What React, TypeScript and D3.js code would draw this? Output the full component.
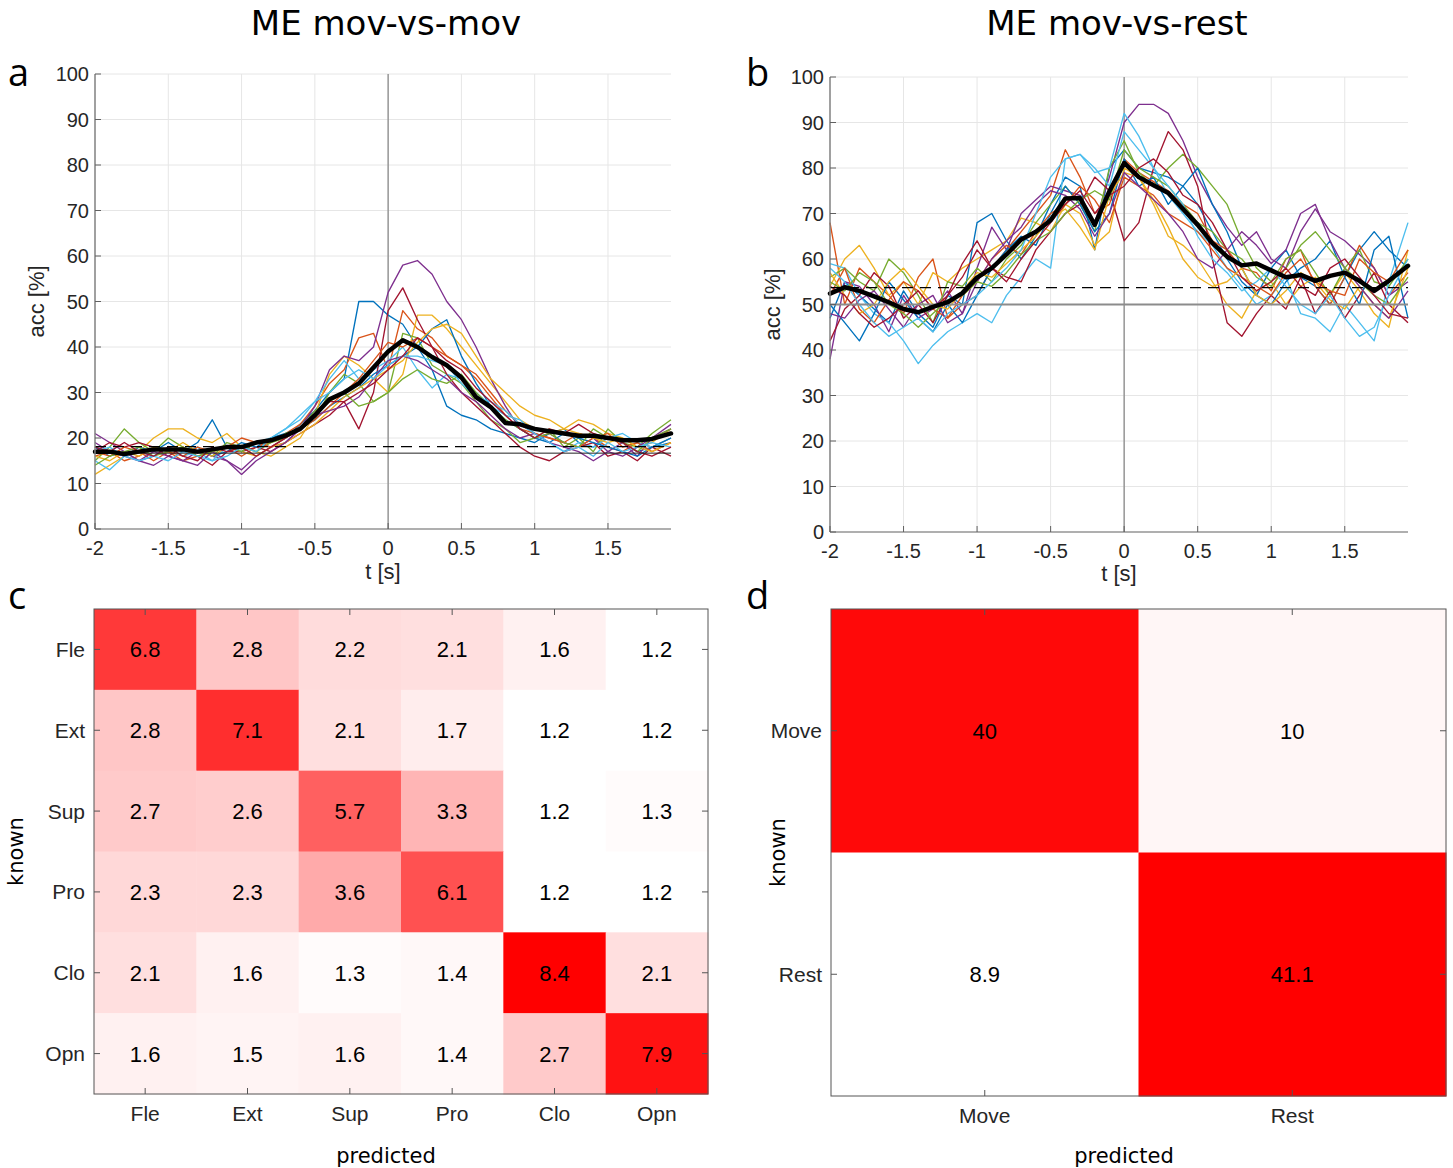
import React from 'react';
import * as d3 from 'd3';

// ---------- data ----------
const TIMES = [-2, -1.9, -1.8, -1.7, -1.6, -1.5, -1.4, -1.3, -1.2, -1.1, -1.0, -0.9, -0.8, -0.7, -0.6, -0.5, -0.4, -0.3, -0.2, -0.1, 0.0, 0.1, 0.2, 0.3, 0.4, 0.5, 0.6, 0.7, 0.8, 0.9, 1.0, 1.1, 1.2, 1.3, 1.4, 1.5, 1.6, 1.7, 1.8, 1.93];
const X_TICKS = [-2, -1.5, -1, -0.5, 0, 0.5, 1, 1.5];
const Y_TICKS = [0, 10, 20, 30, 40, 50, 60, 70, 80, 90, 100];
const SUBJECT_COLORS = ['#0072BD', '#D95319', '#EDB120', '#7E2F8E', '#77AC30', '#4DBEEE', '#A2142F'];

// panel a: mov-vs-mov accuracy per subject
const movA1 = [18, 16, 17, 15, 16, 18, 17, 19, 24, 18, 17, 19, 18, 20, 23, 26, 30, 33, 50, 50, 47, 45, 40, 35, 27, 25, 24, 22, 21, 20, 19, 21, 22, 19, 18, 20, 19, 17, 18, 19];
const movA2 = [16, 17, 15, 16, 18, 17, 15, 16, 17, 18, 16, 18, 19, 21, 23, 27, 32, 35, 42, 43, 35, 48, 44, 42, 38, 36, 33, 29, 25, 22, 21, 20, 19, 21, 20, 18, 17, 19, 18, 20];
const movA3 = [12, 14, 16, 17, 20, 22, 22, 20, 19, 21, 18, 17, 16, 18, 20, 25, 34, 38, 36, 33, 30, 34, 47, 47, 44, 40, 36, 32, 28, 24, 22, 21, 22, 24, 23, 21, 20, 18, 19, 22];
const movA4 = [21, 19, 17, 15, 14, 16, 15, 17, 16, 15, 13, 16, 18, 19, 22, 27, 35, 38, 37, 40, 52, 58, 59, 56, 50, 46, 40, 33, 27, 22, 20, 21, 19, 18, 20, 17, 19, 16, 20, 23];
const movA5 = [15, 18, 22, 19, 17, 20, 18, 17, 16, 19, 18, 17, 19, 20, 22, 24, 30, 34, 32, 28, 30, 43, 42, 36, 34, 32, 28, 24, 22, 19, 20, 22, 18, 20, 17, 22, 19, 18, 21, 24];
const movA6 = [15, 13, 16, 17, 16, 18, 16, 17, 15, 18, 17, 19, 20, 22, 24, 28, 33, 37, 33, 35, 37, 40, 35, 31, 34, 33, 30, 27, 25, 24, 21, 19, 17, 19, 18, 20, 21, 19, 18, 20];
const movA7 = [17, 19, 18, 19, 18, 16, 18, 16, 14, 17, 17, 18, 17, 19, 21, 23, 25, 28, 22, 30, 48, 53, 46, 40, 34, 30, 27, 24, 21, 18, 16, 15, 17, 18, 19, 16, 17, 15, 18, 16];
const movA8 = [18, 17, 16, 18, 17, 19, 17, 18, 16, 17, 19, 18, 20, 21, 22, 24, 27, 29, 31, 34, 36, 38, 40, 44, 46, 38, 32, 27, 24, 22, 20, 19, 21, 20, 19, 18, 17, 16, 18, 20];
const movA9 = [17, 16, 18, 17, 15, 17, 16, 18, 17, 18, 20, 19, 18, 20, 22, 24, 27, 30, 33, 37, 41, 40, 42, 40, 38, 36, 34, 30, 26, 23, 21, 20, 19, 18, 20, 21, 18, 19, 17, 19];
const movA10 = [16, 15, 17, 16, 18, 17, 19, 17, 16, 18, 17, 16, 18, 19, 21, 23, 26, 29, 31, 33, 35, 37, 41, 44, 45, 43, 38, 33, 30, 27, 25, 24, 22, 21, 20, 19, 20, 18, 17, 19];
const movA11 = [19, 17, 16, 15, 17, 16, 15, 14, 17, 15, 12, 15, 17, 19, 22, 25, 26, 27, 29, 33, 37, 38, 37, 35, 33, 30, 28, 25, 22, 20, 21, 19, 18, 17, 15, 17, 16, 18, 20, 22];
const movA12 = [14, 16, 17, 18, 16, 17, 18, 16, 17, 18, 17, 19, 19, 21, 22, 26, 28, 30, 27, 28, 30, 33, 35, 33, 32, 34, 30, 27, 24, 22, 20, 21, 19, 18, 22, 20, 19, 17, 20, 22];
const movA13 = [17, 18, 16, 15, 16, 15, 17, 16, 15, 16, 18, 17, 20, 22, 25, 28, 30, 33, 35, 33, 36, 38, 38, 37, 36, 32, 29, 28, 26, 23, 21, 19, 17, 18, 16, 19, 17, 18, 19, 18];
const movA14 = [18, 17, 19, 17, 16, 18, 16, 15, 18, 17, 18, 16, 18, 20, 22, 25, 28, 28, 30, 32, 35, 38, 42, 40, 37, 35, 31, 28, 25, 22, 20, 22, 21, 23, 21, 20, 19, 17, 16, 18];
const movMean = [17, 17, 16.5, 17, 17.5, 17.5, 17.5, 17, 17.5, 18, 18, 19, 19.5, 20.5, 22, 25, 28.5, 30, 32, 35.5, 39, 41.5, 40, 37.8, 36, 33.3, 29, 26.8, 23.3, 23, 22, 21.5, 21, 20.5, 20.5, 20, 19.5, 19.5, 19.8, 21];
const movChance = 16.67;
const movDashed = 18.1;

// panel b: mov-vs-rest accuracy per subject
const restB1 = [47, 55, 52, 49, 46, 53, 48, 45, 52, 50, 68, 70, 64, 60, 65, 72, 78, 76, 62, 80, 84, 80, 79, 78, 76, 72, 66, 60, 55, 52, 58, 62, 56, 54, 50, 56, 62, 66, 62, 58];
const restB2 = [68, 50, 58, 55, 52, 48, 56, 60, 47, 50, 52, 58, 62, 66, 70, 74, 84, 78, 70, 72, 82, 79, 77, 75, 72, 70, 64, 62, 58, 57, 53, 60, 62, 54, 50, 56, 63, 58, 52, 57];
const restB3 = [54, 60, 63, 58, 52, 55, 50, 57, 55, 58, 60, 62, 64, 69, 68, 66, 72, 70, 63, 66, 80, 78, 72, 65, 63, 60, 55, 50, 47, 53, 55, 50, 54, 56, 52, 57, 53, 48, 45, 62];
const restB4 = [38, 55, 54, 50, 44, 52, 47, 49, 53, 48, 58, 67, 62, 70, 73, 76, 75, 74, 68, 78, 90, 94, 94, 92, 86, 78, 72, 67, 63, 66, 60, 58, 66, 71, 66, 64, 61, 58, 52, 55];
const restB5 = [56, 58, 55, 53, 60, 57, 52, 46, 55, 54, 58, 55, 60, 63, 68, 72, 76, 72, 66, 80, 86, 79, 76, 80, 83, 80, 76, 72, 64, 58, 55, 60, 62, 57, 52, 58, 62, 55, 54, 60];
const restB6 = [59, 58, 52, 48, 46, 42, 37, 41, 44, 46, 48, 46, 52, 56, 60, 58, 82, 83, 79, 80, 92, 87, 80, 74, 70, 66, 63, 58, 54, 50, 52, 56, 48, 47, 44, 50, 46, 42, 55, 68];
const restB7 = [42, 49, 52, 57, 54, 47, 50, 46, 52, 59, 64, 58, 56, 55, 62, 66, 70, 72, 78, 75, 64, 68, 80, 88, 84, 76, 60, 46, 43, 48, 52, 49, 56, 48, 53, 47, 52, 57, 50, 46];
const restB8 = [50, 46, 42, 48, 55, 51, 47, 44, 50, 46, 52, 58, 62, 65, 63, 70, 76, 72, 66, 70, 82, 76, 78, 72, 76, 80, 72, 66, 58, 52, 50, 55, 58, 60, 64, 56, 50, 62, 65, 47];
const restB9 = [52, 58, 49, 46, 51, 55, 53, 49, 47, 52, 55, 60, 63, 61, 66, 70, 72, 76, 73, 68, 78, 76, 74, 70, 68, 66, 62, 58, 56, 54, 52, 57, 60, 55, 53, 52, 60, 57, 55, 62];
const restB10 = [57, 52, 48, 50, 55, 58, 54, 50, 49, 53, 57, 56, 59, 62, 65, 69, 71, 67, 62, 74, 79, 78, 73, 67, 60, 56, 54, 55, 58, 52, 50, 53, 57, 55, 51, 49, 54, 50, 47, 58];
const restB11 = [48, 47, 51, 53, 49, 45, 50, 52, 46, 48, 55, 60, 64, 67, 72, 75, 74, 71, 65, 70, 79, 76, 73, 70, 66, 60, 58, 62, 66, 63, 59, 62, 70, 72, 64, 58, 54, 50, 47, 53];
const restB12 = [55, 53, 57, 55, 50, 48, 45, 48, 51, 52, 55, 54, 57, 61, 64, 66, 70, 73, 75, 73, 84, 80, 78, 76, 72, 68, 66, 62, 60, 56, 54, 58, 63, 66, 62, 58, 55, 52, 50, 56];
const restB13 = [58, 55, 50, 46, 43, 45, 47, 44, 48, 50, 52, 55, 58, 62, 70, 78, 82, 83, 80, 76, 88, 84, 80, 76, 72, 65, 60, 57, 53, 55, 58, 54, 50, 48, 52, 47, 43, 45, 52, 60];
const restB14 = [54, 52, 48, 45, 47, 50, 53, 49, 52, 56, 62, 58, 55, 60, 64, 68, 72, 75, 70, 74, 76, 80, 82, 79, 74, 72, 68, 62, 56, 53, 55, 58, 54, 52, 58, 60, 56, 52, 48, 47];
const restMean = [52.4, 53.8, 53, 51.8, 50.5, 49, 48.3, 49.5, 50.5, 52.5, 55.9, 58, 61, 64.3, 66, 68.5, 73.3, 73.4, 67.5, 74.9, 81.1, 78, 76.2, 74.5, 71, 67.5, 63.5, 60.5, 58.6, 59, 57.5, 56, 56.5, 55.2, 56.3, 57, 55.2, 53, 55.2, 58.5];
const restChance = 50;
const restDashed = 53.7;

// panel c / d confusion matrices
const movClasses = ['Fle', 'Ext', 'Sup', 'Pro', 'Clo', 'Opn'];
const movConfusion = [
  [6.8, 2.8, 2.2, 2.1, 1.6, 1.2],
  [2.8, 7.1, 2.1, 1.7, 1.2, 1.2],
  [2.7, 2.6, 5.7, 3.3, 1.2, 1.3],
  [2.3, 2.3, 3.6, 6.1, 1.2, 1.2],
  [2.1, 1.6, 1.3, 1.4, 8.4, 2.1],
  [1.6, 1.5, 1.6, 1.4, 2.7, 7.9],
];
const restClasses = ['Move', 'Rest'];
const restConfusion = [
  [40, 10],
  [8.9, 41.1],
];

const movSeries = [movA1, movA2, movA3, movA4, movA5, movA6, movA7, movA8, movA9, movA10, movA11, movA12, movA13, movA14];
const restSeries = [restB1, restB2, restB3, restB4, restB5, restB6, restB7, restB8, restB9, restB10, restB11, restB12, restB13, restB14];

// ---------- styles ----------
const FONT = '"Liberation Sans", Arial, Helvetica, sans-serif';
const DJ = '"DejaVu Sans", sans-serif';
const LETTER = '"Open Sans", "DejaVu Sans", sans-serif';
const TXT = '#262626';

function LinePanel(props: {
  x0: number; x1: number; yBottom: number; yTop: number;
  series: number[][]; mean: number[]; chance: number; dashed: number;
  chanceColor: string; chanceWidth: number;
  title: string; titleX: number; letter: string; letterX: number;
  yLabelX: number; xLabelY: number;
}) {
  const p = props;
  const x = d3.scaleLinear().domain([-2, 1.93]).range([p.x0, p.x1]);
  const y = d3.scaleLinear().domain([0, 100]).range([p.yBottom, p.yTop]);
  const line = d3.line<number>().x((_, i) => x(TIMES[i])).y((d) => y(d));
  return (
    <g>
      <text x={p.titleX} y={35} textAnchor="middle" fontFamily={DJ} fontSize={34} fill="#000">{p.title}</text>
      <text x={p.letterX} y={86} fontFamily={LETTER} fontSize={38} fill="#000">{p.letter}</text>
      {/* grid */}
      {X_TICKS.filter((t) => t !== -2).map((t) => (
        <line key={'gx' + t} x1={x(t)} x2={x(t)} y1={y(0)} y2={y(100)} stroke="#e6e6e6" strokeWidth={1} />
      ))}
      {Y_TICKS.filter((t) => t !== 0).map((t) => (
        <line key={'gy' + t} x1={p.x0} x2={p.x1} y1={y(t)} y2={y(t)} stroke="#e6e6e6" strokeWidth={1} />
      ))}
      {/* t = 0 line */}
      <line x1={x(0)} x2={x(0)} y1={y(0)} y2={y(100)} stroke="#8a8a8a" strokeWidth={1.3} />
      {/* subjects */}
      {p.series.map((s, i) => (
        <path key={'s' + i} d={line(s) || ''} fill="none" stroke={SUBJECT_COLORS[i % SUBJECT_COLORS.length]} strokeWidth={1.35} strokeLinejoin="round" />
      ))}
      {/* chance lines */}
      <line x1={p.x0} x2={p.x1} y1={y(p.chance)} y2={y(p.chance)} stroke={p.chanceColor} strokeWidth={p.chanceWidth} />
      <line x1={p.x0} x2={p.x1} y1={y(p.dashed)} y2={y(p.dashed)} stroke="#000" strokeWidth={1.4} strokeDasharray="11,7" />
      {/* mean */}
      <path d={line(p.mean) || ''} fill="none" stroke="#000" strokeWidth={4.5} strokeLinejoin="round" strokeLinecap="round" />
      {/* axes */}
      <line x1={p.x0} x2={p.x0} y1={y(0)} y2={y(100)} stroke="#808080" strokeWidth={1.5} />
      <line x1={p.x0} x2={p.x1} y1={y(0)} y2={y(0)} stroke="#606060" strokeWidth={1.2} />
      {Y_TICKS.map((t) => (
        <g key={'yt' + t}>
          <line x1={p.x0} x2={p.x0 + 6} y1={y(t)} y2={y(t)} stroke="#606060" strokeWidth={1} />
          <text x={p.x0 - 6} y={y(t)} dy="0.36em" textAnchor="end" fontFamily={FONT} fontSize={20} fill={TXT}>{t}</text>
        </g>
      ))}
      {X_TICKS.map((t) => (
        <g key={'xt' + t}>
          <line x1={x(t)} x2={x(t)} y1={y(0)} y2={y(0) - 6} stroke="#606060" strokeWidth={1} />
          <text x={x(t)} y={y(0) + 26} textAnchor="middle" fontFamily={FONT} fontSize={20} fill={TXT}>{t}</text>
        </g>
      ))}
      <text transform={`translate(${p.yLabelX},${(y(0) + y(100)) / 2}) rotate(-90)`} textAnchor="middle" fontFamily={FONT} fontSize={22} fill={TXT}>acc [%]</text>
      <text x={(p.x0 + p.x1) / 2} y={p.xLabelY} textAnchor="middle" fontFamily={FONT} fontSize={22} fill={TXT}>t [s]</text>
    </g>
  );
}

function MatrixPanel(props: {
  x0: number; x1: number; y0: number; y1: number;
  classes: string[]; values: number[][];
  letter: string; letterX: number; knownX: number; predictedX: number;
}) {
  const p = props;
  const xs = d3.scaleBand<string>().domain(p.classes).range([p.x0, p.x1]);
  const ys = d3.scaleBand<string>().domain(p.classes).range([p.y0, p.y1]);
  const flat = p.values.flat();
  const color = d3.scaleLinear<string>().domain([d3.min(flat) as number, d3.max(flat) as number]).range(['#ffffff', '#ff0000']);
  const bw = xs.bandwidth();
  const bh = ys.bandwidth();
  return (
    <g>
      <text x={p.letterX} y={609} fontFamily={LETTER} fontSize={38} fill="#000">{p.letter}</text>
      {p.values.map((row, r) =>
        row.map((v, c) => (
          <rect key={`c${r}-${c}`} x={xs(p.classes[c])} y={ys(p.classes[r])} width={bw + 0.5} height={bh + 0.5} fill={color(v)} />
        ))
      )}
      {p.values.map((row, r) =>
        row.map((v, c) => (
          <text key={`t${r}-${c}`} x={(xs(p.classes[c]) as number) + bw / 2} y={(ys(p.classes[r]) as number) + bh / 2} dy="0.36em" textAnchor="middle" fontFamily={FONT} fontSize={22} fill="#000">{String(v)}</text>
        ))
      )}
      <rect x={p.x0} y={p.y0} width={p.x1 - p.x0} height={p.y1 - p.y0} fill="none" stroke="#555" strokeWidth={1} />
      {p.classes.map((c) => {
        const cx = (xs(c) as number) + bw / 2;
        const cy = (ys(c) as number) + bh / 2;
        return (
          <g key={'tk' + c}>
            <line x1={cx} x2={cx} y1={p.y0} y2={p.y0 + 6} stroke="#555" />
            <line x1={cx} x2={cx} y1={p.y1} y2={p.y1 - 6} stroke="#555" />
            <line x1={p.x0} x2={p.x0 + 6} y1={cy} y2={cy} stroke="#555" />
            <line x1={p.x1} x2={p.x1 - 6} y1={cy} y2={cy} stroke="#555" />
            <text x={p.x0 - 9} y={cy} dy="0.36em" textAnchor="end" fontFamily={FONT} fontSize={21} fill={TXT}>{c}</text>
            <text x={cx} y={p.y1 + 27} textAnchor="middle" fontFamily={FONT} fontSize={21} fill={TXT}>{c}</text>
          </g>
        );
      })}
      <text transform={`translate(${p.knownX},${(p.y0 + p.y1) / 2}) rotate(-90)`} textAnchor="middle" fontFamily={DJ} fontSize={21} fill="#000">known</text>
      <text x={p.predictedX} y={1163} textAnchor="middle" fontFamily={DJ} fontSize={21} fill="#000">predicted</text>
    </g>
  );
}

export default function App() {
  return (
    <svg width={1453} height={1168} style={{ position: 'absolute', left: 0, top: 0, background: '#fff' }} xmlns="http://www.w3.org/2000/svg">
      <rect x={0} y={0} width={1453} height={1168} fill="#fff" />
      <LinePanel x0={95} x1={671} yBottom={529} yTop={74} series={movSeries} mean={movMean}
        chance={movChance} dashed={movDashed} chanceColor="#222" chanceWidth={1}
        title="ME mov-vs-mov" titleX={386} letter="a" letterX={8} yLabelX={44} xLabelY={579} />
      <LinePanel x0={830} x1={1408} yBottom={532} yTop={77} series={restSeries} mean={restMean}
        chance={restChance} dashed={restDashed} chanceColor="#8c8c8c" chanceWidth={2}
        title="ME mov-vs-rest" titleX={1117} letter="b" letterX={746} yLabelX={780} xLabelY={581} />
      <MatrixPanel x0={94} x1={708} y0={609} y1={1094} classes={movClasses} values={movConfusion}
        letter="c" letterX={8} knownX={23} predictedX={386} />
      <MatrixPanel x0={831} x1={1446} y0={609} y1={1096} classes={restClasses} values={restConfusion}
        letter="d" letterX={746} knownX={785} predictedX={1124} />
    </svg>
  );
}
